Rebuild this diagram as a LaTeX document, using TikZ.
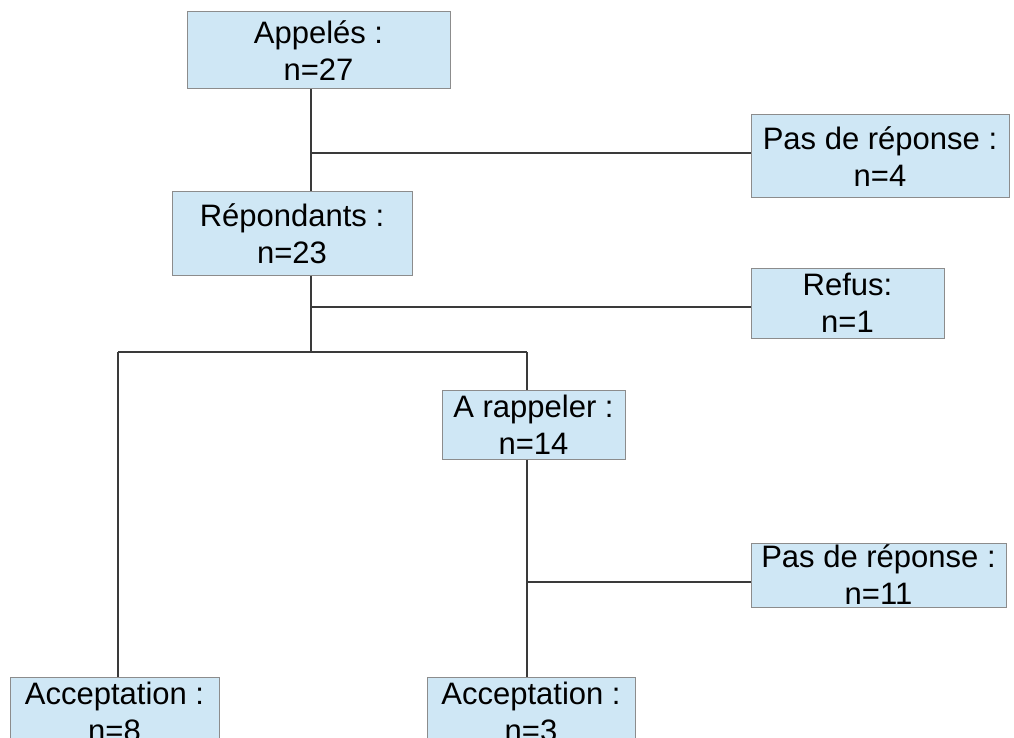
\documentclass[tikz,border=0pt]{standalone}
\usepackage{fontspec}
\setmainfont{Liberation Sans}
\definecolor{boxfill}{HTML}{CFE7F5}
\definecolor{boxline}{HTML}{8C8C8C}
\definecolor{conn}{HTML}{3A3A3A}
\begin{document}
\begin{tikzpicture}[x=1pt,y=-1pt,
  box/.style={draw=boxline,fill=boxfill,line width=1pt,inner sep=0pt,align=center,
    font=\fontsize{31}{37}\selectfont,rectangle},
  link/.style={draw=conn,line width=1.2pt}]
\useasboundingbox (0,0) rectangle (1014,738);
\clip (0,0) rectangle (1014,738);
\node[box,minimum width=263pt,minimum height=77pt] (appel) at (318.5,50.5) {Appelés :\\n=27};
\node[box,minimum width=258pt,minimum height=83pt] (pdr1) at (880,156.5) {Pas de réponse :\\n=4};
\node[box,minimum width=240pt,minimum height=83pt] (rep) at (292,233.5) {Répondants :\\n=23};
\node[box,minimum width=193pt,minimum height=70pt] (refus) at (847.5,303) {Refus:\\n=1};
\node[box,minimum width=183pt,minimum height=69pt] (rapp) at (533.5,424.5) {A rappeler :\\n=14};
\node[box,minimum width=255pt,minimum height=64pt] (pdr2) at (878.5,575) {Pas de réponse :\\n=11};
\node[box,minimum width=209pt,minimum height=69pt] (acc1) at (114.5,711.5) {Acceptation :\\n=8};
\node[box,minimum width=208pt,minimum height=69pt] (acc2) at (531,711.5) {Acceptation :\\n=3};
\coordinate (j1) at (311,153);
\coordinate (j2) at (311,307);
\coordinate (j3) at (311,352);
\coordinate (jl) at (118,352);
\coordinate (jr) at (527,352);
\coordinate (j4) at (527,582);
\draw[link] (appel.south -| j1) -- (rep.north -| j1);
\draw[link] (j1) -- (j1 -| pdr1.west);
\draw[link] (rep.south -| j3) -- (j3);
\draw[link] (j2) -- (j2 -| refus.west);
\draw[link] (jl) -- (jr);
\draw[link] (jl) -- (acc1.north -| jl);
\draw[link] (jr) -- (rapp.north -| jr);
\draw[link] (rapp.south -| j4) -- (acc2.north -| j4);
\draw[link] (j4) -- (j4 -| pdr2.west);
\end{tikzpicture}
\end{document}
